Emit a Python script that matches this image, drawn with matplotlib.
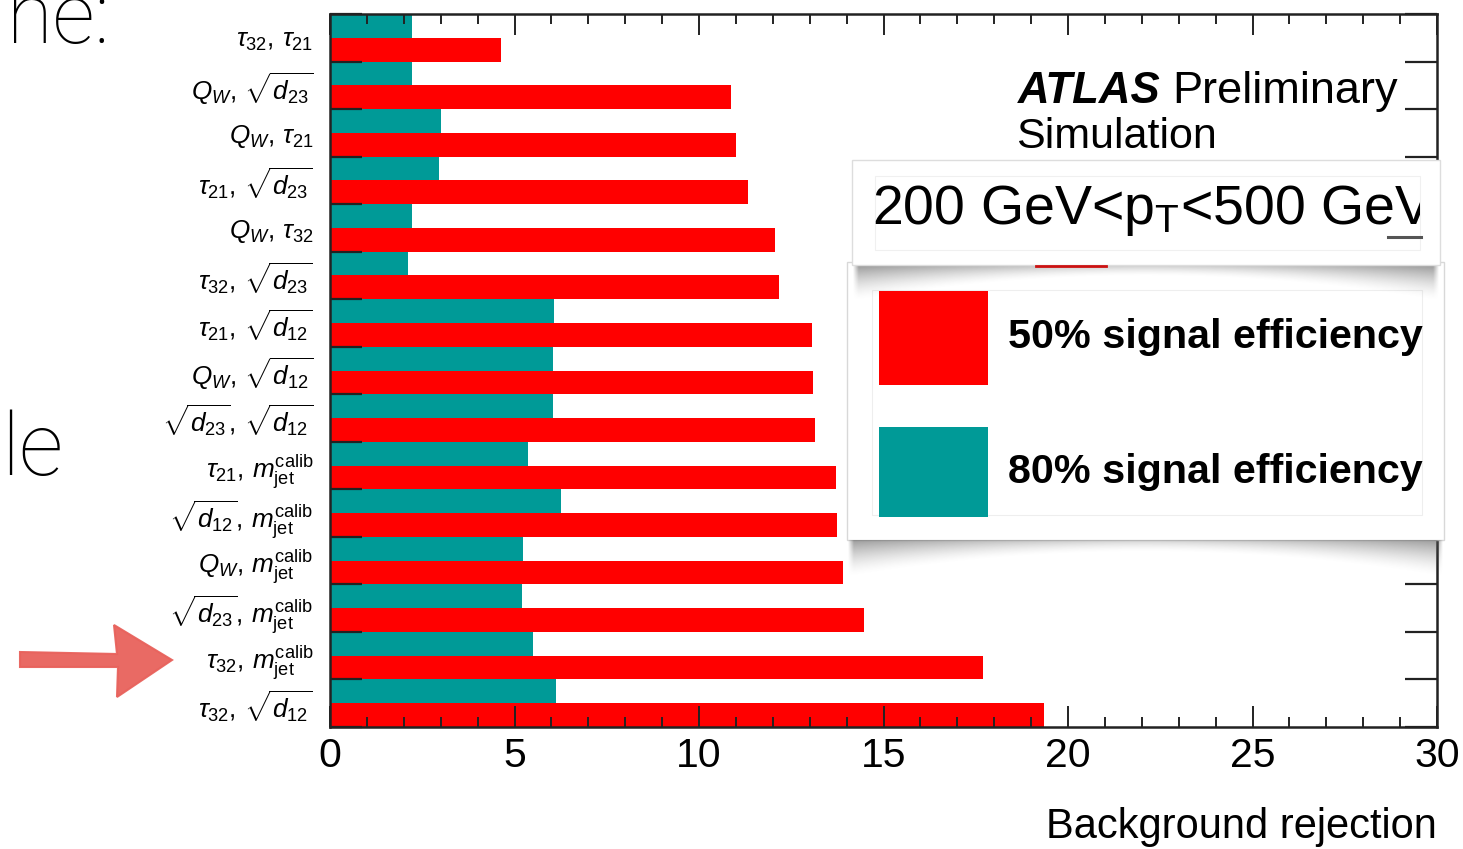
import numpy as np
import matplotlib
matplotlib.use("Agg")
import matplotlib.pyplot as plt
from matplotlib.patches import Rectangle, Polygon
from matplotlib.ticker import MultipleLocator, FixedLocator, FixedFormatter, NullFormatter

# ---- data: background rejection for pairs of W-tagging variables ----
variable_pairs = [
    r"$\tau_{32},\,\tau_{21}$",
    r"$Q_{W},\,\sqrt{d_{23}}$",
    r"$Q_{W},\,\tau_{21}$",
    r"$\tau_{21},\,\sqrt{d_{23}}$",
    r"$Q_{W},\,\tau_{32}$",
    r"$\tau_{32},\,\sqrt{d_{23}}$",
    r"$\tau_{21},\,\sqrt{d_{12}}$",
    r"$Q_{W},\,\sqrt{d_{12}}$",
    r"$\sqrt{d_{23}},\,\sqrt{d_{12}}$",
    r"$\tau_{21},\,m_{\mathrm{jet}}^{\mathrm{calib}}$",
    r"$\sqrt{d_{12}},\,m_{\mathrm{jet}}^{\mathrm{calib}}$",
    r"$Q_{W},\,m_{\mathrm{jet}}^{\mathrm{calib}}$",
    r"$\sqrt{d_{23}},\,m_{\mathrm{jet}}^{\mathrm{calib}}$",
    r"$\tau_{32},\,m_{\mathrm{jet}}^{\mathrm{calib}}$",
    r"$\tau_{32},\,\sqrt{d_{12}}$",
]
rejection_eff80 = [2.23, 2.21, 3.01, 2.96, 2.23, 2.12, 6.08, 6.03, 6.03,
                   5.37, 6.26, 5.22, 5.20, 5.50, 6.13]
rejection_eff50 = [4.63, 10.86, 10.99, 11.32, 12.06, 12.18, 13.06, 13.10, 13.14,
                   13.71, 13.73, 13.91, 14.48, 17.71, 19.34]
x_ticks = [0, 5, 10, 15, 20, 25, 30]
legend_labels = ["50% signal efficiency", "80% signal efficiency"]

RED = "#FF0000"
TEAL = "#009A97"

plt.rcParams["font.family"] = ["Liberation Sans", "DejaVu Sans"]
plt.rcParams["mathtext.fontset"] = "custom"
plt.rcParams["mathtext.rm"] = "Liberation Sans"
plt.rcParams["mathtext.it"] = "Liberation Sans:italic"
plt.rcParams["mathtext.bf"] = "Liberation Sans:bold"
plt.rcParams["mathtext.sf"] = "Liberation Sans"

W, H = 1463, 849
fig = plt.figure(figsize=(W / 100, H / 100), dpi=100)
fig.patch.set_facecolor("white")

ax = fig.add_axes([330 / W, 1 - 727 / H, (1437 - 330) / W, (727 - 14) / H])
n = len(variable_pairs)
rows = np.arange(n)
ax.barh(rows, rejection_eff80, height=0.5, align="edge", color=TEAL, lw=0, zorder=1)
ax.barh(rows + 0.5, rejection_eff50, height=0.5, align="edge", color=RED, lw=0, zorder=1)

ax.set_xlim(0, 30)
ax.set_ylim(n, 0)
ax.set_xticks(x_ticks)
ax.set_xticklabels([str(t) for t in x_ticks])
ax.xaxis.set_minor_locator(MultipleLocator(1))
ax.tick_params(axis="x", which="both", direction="in", top=True, bottom=True,
               width=1.4, color="#222222", labelsize=29.5, pad=7)
ax.tick_params(axis="x", which="major", length=15)
ax.tick_params(axis="x", which="minor", length=7.5)

ax.yaxis.set_major_locator(FixedLocator(np.arange(n + 1)))
ax.yaxis.set_major_formatter(NullFormatter())
ax.yaxis.set_minor_locator(FixedLocator(rows + 0.5))
ax.yaxis.set_minor_formatter(FixedFormatter(variable_pairs))
ax.tick_params(axis="y", which="major", direction="in", left=True, right=True,
               length=23, width=1.6, color="#222222")
ax.tick_params(axis="y", which="minor", length=0, pad=12, labelsize=18.8)

for sp in ax.spines.values():
    sp.set_linewidth(1.8)
    sp.set_color("#222222")

ax.set_xlabel("Background rejection", fontsize=30, loc="right", labelpad=23)

# ---- overlay in pixel coordinates for the annotation panels ----
ov = fig.add_axes([0, 0, 1, 1], zorder=10)
ov.set_xlim(0, W)
ov.set_ylim(H, 0)
ov.axis("off")
ov.patch.set_alpha(0)


def curved_shadow(x0, x1, y0, dmin, dmax, strength=0.55):
    """Soft grey shadow hanging below a panel edge, deeper at the corners."""
    nx, ny = 300, 80
    xs = np.linspace(-1, 1, nx)
    depth = dmin + (dmax - dmin) * xs ** 2
    ys = np.linspace(0, dmax, ny)[:, None]
    f = np.clip(1 - ys / depth[None, :], 0, 1) ** 1.6
    edge = 0.45 + 0.55 * np.abs(xs) ** 1.5
    edge_fade = np.clip((1 - np.abs(xs)) / 0.02, 0, 1)
    alpha = strength * f * edge[None, :] * edge_fade[None, :]
    img = np.zeros((ny, nx, 4))
    img[..., :3] = 0.35
    img[..., 3] = alpha
    ov.imshow(img, extent=(x0, x1, y0 + dmax, y0), origin="upper",
              aspect="auto", interpolation="bilinear", zorder=3)


# ATLAS label
ov.text(1018, 103, "ATLAS", fontsize=31.5, fontweight="bold", fontstyle="italic",
        va="baseline", ha="left", zorder=2)
ov.text(1172, 103, "Preliminary", fontsize=32.5, va="baseline", ha="left", zorder=2)
ov.text(1016, 148, "Simulation", fontsize=31, va="baseline", ha="left", zorder=2)

# legend panel
ov.add_patch(Rectangle((847, 262), 597, 278, facecolor="white",
                       edgecolor="#d8d8d8", lw=1.0, zorder=2))
ov.add_patch(Rectangle((872, 290), 550, 225, facecolor="none",
                       edgecolor="#eeeeee", lw=0.8, zorder=2.5))
ov.add_patch(Rectangle((879, 291), 109, 94, facecolor=RED, lw=0, zorder=4))
ov.add_patch(Rectangle((879, 427), 109, 90, facecolor=TEAL, lw=0, zorder=4))
ov.text(1008, 337, legend_labels[0], fontsize=29.7, fontweight="bold",
        va="center", ha="left", zorder=4)
ov.text(1008, 472, legend_labels[1], fontsize=29.7, fontweight="bold",
        va="center", ha="left", zorder=4)
curved_shadow(847, 1444, 540, 12, 38, 0.6)

# kinematic range panel
ov.add_patch(Rectangle((852, 160), 588, 105, facecolor="white",
                       edgecolor="#dddddd", lw=1.0, zorder=5))
inner = Rectangle((875, 176), 545, 74, facecolor="none",
                  edgecolor="#f0f0f0", lw=0.8, zorder=5.5)
ov.add_patch(inner)
t = ov.text(872, 224, r"200 GeV<p$_{\mathrm{T}}$<500 GeV", fontsize=40,
            va="baseline", ha="left", zorder=6, clip_on=True)
t.set_clip_path(Rectangle((852, 160), 568, 105, transform=ov.transData))
ov.plot([1388, 1421], [237, 237], color="#555555", lw=2.2, zorder=6)
ov.plot([1036, 1106], [265.5, 265.5], color="#cc1111", lw=2, zorder=6)
curved_shadow(852, 1440, 266, 10, 36, 0.6)

# slide text fragments
ov.text(110, 43, "ne:", fontsize=60, family=["Roboto", "DejaVu Sans"],
        fontweight="light", va="baseline", ha="right", zorder=2)
ov.text(63, 475, "le", fontsize=63, family=["Roboto", "DejaVu Sans"],
        fontweight="light", va="baseline", ha="right", zorder=2)

# pointer arrow
arrow_pts = [(20, 652), (117, 654), (114, 625), (172, 660), (117, 697),
             (118, 667), (20, 667)]
ov.add_patch(Polygon(arrow_pts, closed=True, facecolor="#E8625C",
                     edgecolor="#E8625C", lw=1.5, alpha=0.95, zorder=2))

fig.savefig("out.png", dpi=100, facecolor="white")
